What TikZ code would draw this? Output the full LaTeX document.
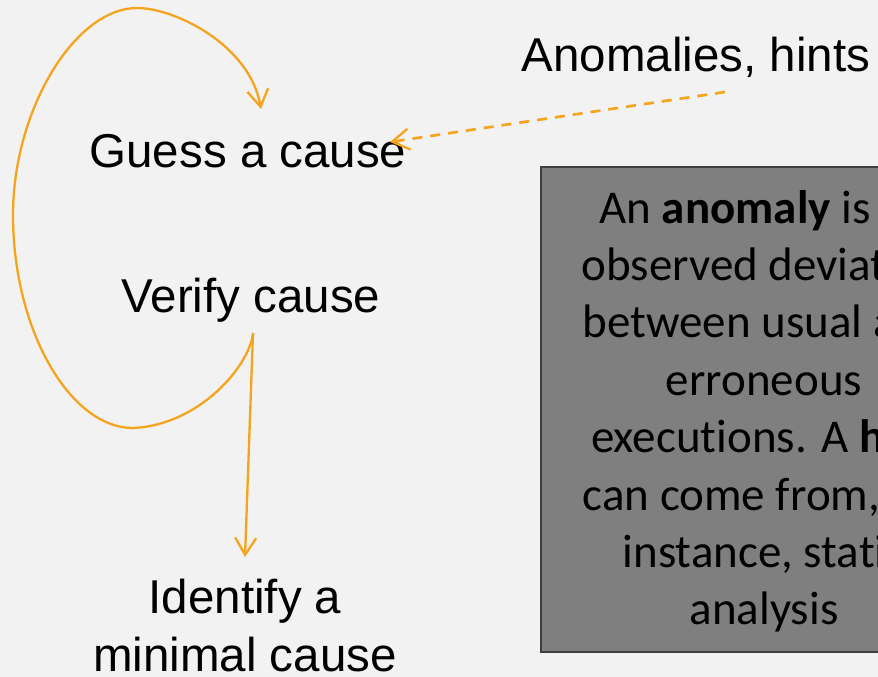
\documentclass[tikz,border=0pt]{standalone}
\usepackage{fontspec}
\setmainfont{Liberation Sans}
\newfontfamily\notefont[Ligatures=NoCommon]{Carlito}
\usetikzlibrary{arrows.meta,calc}

\definecolor{pagebg}{HTML}{F2F2F2}
\definecolor{flowc}{RGB}{245,164,30}
\definecolor{notefill}{HTML}{7F7F7F}
\definecolor{noteedge}{HTML}{3F3F3F}

\tikzset{
  steptext/.style={font=\fontsize{47.5}{58}\selectfont, inner sep=0pt, anchor=base},
  tip/.style={-{Straight Barb[length=17pt,width=21pt,line width=2.3pt]}},
  flow/.style={draw=flowc, line width=2.3pt, tip},
  hintflow/.style={draw=flowc, line width=2.7pt, dash pattern=on 10pt off 8pt, tip},
  notebox/.style={draw=noteedge, line width=1.7pt, fill=notefill, inner sep=0pt},
  notetext/.style={font=\notefont\fontsize{47}{57}\selectfont, inner sep=0pt, anchor=base},
}

\begin{document}
\begin{tikzpicture}[x=1pt,y=-1pt]
  % page
  \path[use as bounding box, fill=pagebg] (0,0) rectangle (878,677);
  \clip (0,0) rectangle (878,677);

  % steps of the loop
  \node[steptext] (guess)  at (248,167) {Guess a cause};
  \node[steptext] (verify) at (251,312) {Verify cause};
  \node[steptext, anchor=north, align=center] (ident) at (245,579) {Identify a\\minimal cause};
  \node[steptext] (anom)   at (696,72)  {Anomalies, hints};

  % note box
  \node[notebox, minimum width=446pt, minimum height=485pt] (note) at (764,409.5) {};
  \foreach \t [count=\i] in {
      {An \textbf{anomaly} is an},
      {observed deviation},
      {between usual and},
      {erroneous},
      {executions. A \textbf{hint}},
      {can come from, for},
      {instance, static},
      {analysis}}
    \node[notetext] (note-\i) at (764,{223+57.4*(\i-1)}) {\t};

  % loop back from verification to guessing
  \draw[flow] ($(verify.base)+(2,21)$)
      .. controls (250,365) and (200,425) .. (133,428)
      .. controls (70,428) and (13,330) .. (13,215)
      .. controls (13,110) and (75,8) .. (137,8)
      .. controls (175,8) and (250,45) .. ($(guess.base)+(13,-58)$);

  % exit of the loop
  \draw[flow] ($(verify.base)+(2,21)$) -- ($(ident.north)+(0,-22)$);

  % hints feed the guess
  \draw[hintflow] ($(anom.base)+(29,20)$) -- ($(guess.base)+(142,-25)$);
\end{tikzpicture}
\end{document}
